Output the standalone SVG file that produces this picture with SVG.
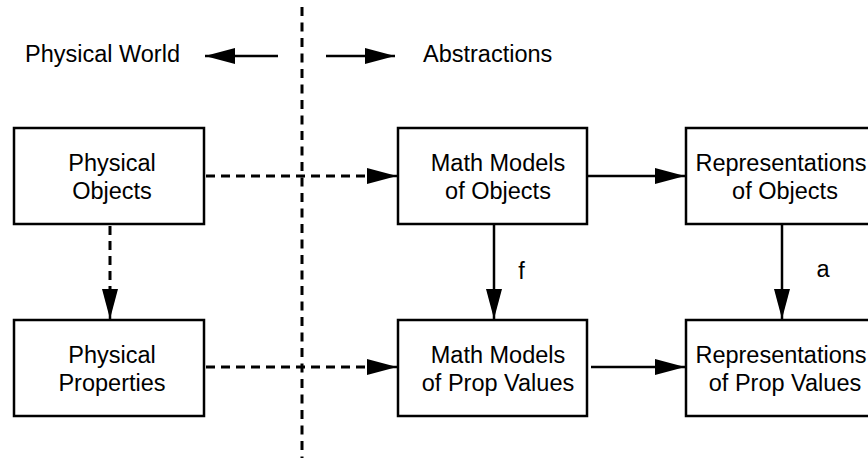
<svg xmlns="http://www.w3.org/2000/svg" width="868" height="459" viewBox="0 0 868 459">
<defs>
<style>
text{font-family:"Liberation Sans",Arial,sans-serif;font-size:23.5px;fill:#000}
.box{fill:#fff;stroke:#000;stroke-width:2.5}
.c{text-anchor:middle}
.solid{stroke:#000;stroke-width:2.5;fill:none}
.dash{stroke:#000;stroke-width:3;fill:none;stroke-dasharray:9 6}
</style>
<marker id="ah" markerUnits="userSpaceOnUse" markerWidth="31" markerHeight="17" refX="30" refY="8" orient="auto" viewBox="0 0 31 17">
<path d="M0,0 L30,8 L0,16 z" fill="#000"/>
</marker>
</defs>
<g id="divider">
<line x1="302" y1="7" x2="302" y2="458" stroke="#000" stroke-width="3" stroke-dasharray="9 6.5"/>
</g>
<g id="header">
<text x="25" y="62">Physical World</text>
<text x="423" y="62">Abstractions</text>
</g>
<g id="connectors">
<line class="solid" x1="278" y1="56" x2="205" y2="56" marker-end="url(#ah)"/>
<line class="solid" x1="326" y1="56" x2="395" y2="56" marker-end="url(#ah)"/>
<line class="dash" x1="206" y1="176" x2="372" y2="176"/>
<line class="solid" x1="370" y1="176" x2="397" y2="176" stroke-width="0.1" marker-end="url(#ah)"/>
<line class="dash" x1="206" y1="367" x2="372" y2="367"/>
<line class="solid" x1="370" y1="367" x2="397" y2="367" stroke-width="0.1" marker-end="url(#ah)"/>
<line class="dash" x1="110" y1="226" x2="110" y2="294"/>
<line class="solid" x1="110" y1="290" x2="110" y2="319" stroke-width="0.1" marker-end="url(#ah)"/>
<line class="solid" x1="588" y1="176" x2="685" y2="176" marker-end="url(#ah)"/>
<line class="solid" x1="591" y1="367" x2="685" y2="367" marker-end="url(#ah)"/>
<line class="solid" x1="494" y1="225" x2="494" y2="319" marker-end="url(#ah)"/>
<line class="solid" x1="782" y1="225" x2="782" y2="319" marker-end="url(#ah)"/>
<text class="c" x="521.5" y="279">f</text>
<text class="c" x="823" y="277">a</text>
</g>
<g id="physical-objects">
<rect class="box" x="14" y="128" width="190" height="96"/>
<text class="c" x="112" y="171">Physical</text>
<text class="c" x="112" y="199">Objects</text>
</g>
<g id="math-models-objects">
<rect class="box" x="398" y="128" width="189" height="96"/>
<text class="c" x="498" y="171">Math Models</text>
<text class="c" x="498" y="199">of Objects</text>
</g>
<g id="representations-objects">
<rect class="box" x="686" y="128" width="200" height="96"/>
<text class="c" x="781" y="171">Representations</text>
<text class="c" x="785" y="199">of Objects</text>
</g>
<g id="physical-properties">
<rect class="box" x="14" y="320" width="190" height="96"/>
<text class="c" x="112" y="362.5">Physical</text>
<text class="c" x="112" y="391">Properties</text>
</g>
<g id="math-models-props">
<rect class="box" x="398" y="320" width="189" height="96"/>
<text class="c" x="498" y="362.5">Math Models</text>
<text class="c" x="498" y="391">of Prop Values</text>
</g>
<g id="representations-props">
<rect class="box" x="686" y="320" width="200" height="96"/>
<text class="c" x="781" y="362.5">Representations</text>
<text class="c" x="785" y="391">of Prop Values</text>
</g>
</svg>
